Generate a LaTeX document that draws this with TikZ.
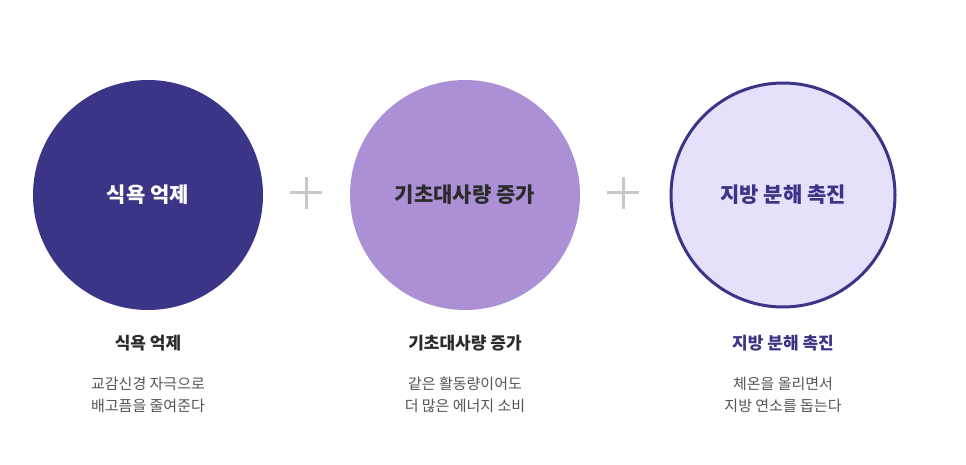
\documentclass[tikz,border=0pt]{standalone}
\usepackage{fontspec}
\setmainfont{Noto Sans CJK KR}
\definecolor{dp}{HTML}{3B3587}
\definecolor{lp}{HTML}{AB90D6}
\definecolor{pp}{HTML}{E6E0FA}
\definecolor{tx}{HTML}{2B2B2B}
\definecolor{gy}{HTML}{555555}
\definecolor{pl}{HTML}{C8C8C8}
\begin{document}
\begin{tikzpicture}[x=1pt,y=-1pt,
 circ/.style={circle,minimum size=230pt,inner sep=0pt,font=\fontsize{21}{24}\selectfont\bfseries},
 ttl/.style={font=\fontsize{17}{20}\selectfont\bfseries,text=tx},
 body/.style={font=\fontsize{15}{22}\selectfont,text=gy,align=center},
 plus/.style={line width=3pt,draw=pl}]
\useasboundingbox[fill=white] (0,0) rectangle (966,465);
\node[circ,fill=dp,text=white] (c1) at (148,195) {식욕 억제};
\node[circ,fill=lp,text=tx] (c2) at (465,195) {기초대사량 증가};
\node[circ,fill=pp,draw=dp,line width=3pt,minimum size=224pt,text=dp] (c3) at (783,195) {지방 분해 촉진};
\coordinate (p1) at (306,193);
\coordinate (p2) at (623,193);
\draw[plus] ([xshift=-16pt]p1) -- ([xshift=16pt]p1) ([yshift=-16pt]p1) -- ([yshift=16pt]p1);
\draw[plus] ([xshift=-16pt]p2) -- ([xshift=16pt]p2) ([yshift=-16pt]p2) -- ([yshift=16pt]p2);
\node[ttl] (t1) at (148,343) {식욕 억제};
\node[ttl] (t2) at (465,343) {기초대사량 증가};
\node[ttl,text=dp] (t3) at (783,343) {지방 분해 촉진};
\node[body] (b1) at (148,395) {교감신경 자극으로\\배고픔을 줄여준다};
\node[body] (b2) at (465,395) {같은 활동량이어도\\더 많은 에너지 소비};
\node[body] (b3) at (783,395) {체온을 올리면서\\지방 연소를 돕는다};
\end{tikzpicture}
\end{document}
